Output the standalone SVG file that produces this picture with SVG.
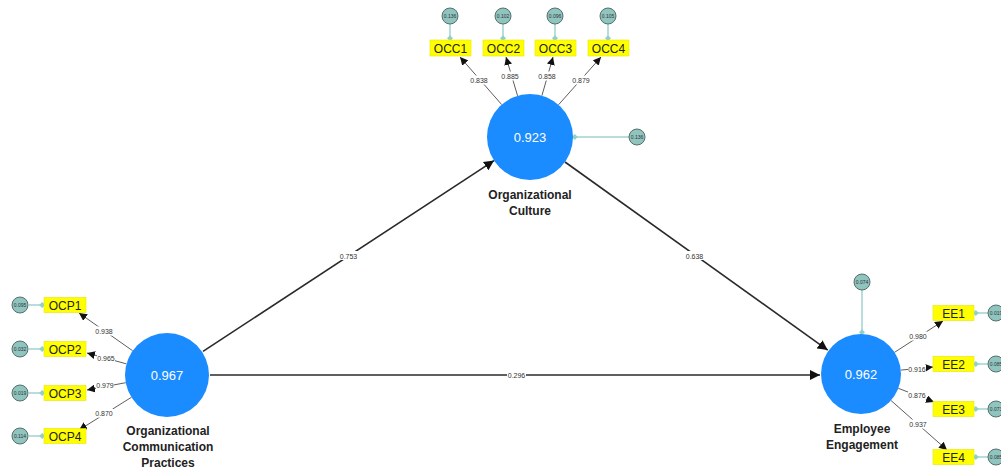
<svg xmlns="http://www.w3.org/2000/svg" width="1001" height="468" viewBox="0 0 1001 468">
  <defs>
    <style>
      .lat { fill: #1a8cff; }
      .latval { font: 13px "Liberation Sans", Arial, sans-serif; fill: #ffffff; text-anchor: middle; }
      .latname { font: bold 12px "Liberation Sans", Arial, sans-serif; fill: #222222; text-anchor: middle; }
      .box { fill: #ffff00; stroke: #e6e600; stroke-width: 0.6; }
      .boxtxt { font: 12px "Liberation Sans", Arial, sans-serif; fill: #222222; text-anchor: middle; }
      .res { fill: #8fc4bf; stroke: #566f6c; stroke-width: 1; }
      .restxt { font: 5px "Liberation Sans", Arial, sans-serif; fill: #333333; text-anchor: middle; }
      .resline { stroke: #9fd3d0; stroke-width: 1.5; fill: none; marker-end: url(#dia); }
      .ind { stroke: #5e5e5e; stroke-width: 1; fill: none; marker-end: url(#ah); }
      .path { stroke: #2a2a2a; stroke-width: 1.6; fill: none; marker-end: url(#ahBig); }
      .coef { font: 7px "Liberation Sans", Arial, sans-serif; fill: #333333; text-anchor: middle; }
      .lblbg { fill: #ffffff; }
    </style>
    <marker id="ah" viewBox="0 0 10 10" refX="10" refY="5" markerWidth="8" markerHeight="8" markerUnits="userSpaceOnUse" orient="auto">
      <path d="M0,0 L10,5 L0,10 z" fill="#111111"/>
    </marker>
    <marker id="ahBig" viewBox="0 0 10 10" refX="10" refY="5" markerWidth="10" markerHeight="10" markerUnits="userSpaceOnUse" orient="auto">
      <path d="M0,0 L10,5 L0,10 z" fill="#111111"/>
    </marker>
    <marker id="dia" viewBox="0 0 10 10" refX="8" refY="5" markerWidth="6" markerHeight="6" markerUnits="userSpaceOnUse" orient="auto">
      <path d="M0,5 L5,0 L10,5 L5,10 z" fill="#8fd0cc"/>
    </marker>
  </defs>
  <rect width="1001" height="468" fill="#ffffff"/>

  <g id="connectors">
    <!-- structural paths -->
    <line class="path" x1="203" y1="351.4" x2="494" y2="160.6"/>
    <line class="path" x1="565" y1="162" x2="827.7" y2="350.1"/>
    <line class="path" x1="210" y1="375" x2="820" y2="375"/>

    <!-- OC loadings -->
    <line class="ind" x1="501.7" y1="104.6" x2="460" y2="57"/>
    <line class="ind" x1="517.6" y1="95.8" x2="506" y2="57"/>
    <line class="ind" x1="541.9" y1="95.7" x2="553" y2="57"/>
    <line class="ind" x1="558.5" y1="104.8" x2="601" y2="57"/>

    <!-- OCP loadings -->
    <line class="ind" x1="132.7" y1="350.8" x2="79" y2="313"/>
    <line class="ind" x1="126.5" y1="363.9" x2="87" y2="353"/>
    <line class="ind" x1="125.7" y1="382.7" x2="87" y2="390"/>
    <line class="ind" x1="131.4" y1="397.3" x2="79" y2="430"/>

    <!-- EE loadings -->
    <line class="ind" x1="894.6" y1="352.3" x2="943" y2="321"/>
    <line class="ind" x1="900.8" y1="370.1" x2="933" y2="367"/>
    <line class="ind" x1="898.3" y1="388.3" x2="934" y2="402"/>
    <line class="ind" x1="891" y1="400.5" x2="947" y2="450"/>

    <!-- residual links -->
    <line class="resline" x1="450" y1="24" x2="450" y2="40"/>
    <line class="resline" x1="503" y1="24" x2="503" y2="40"/>
    <line class="resline" x1="555" y1="24" x2="555" y2="40"/>
    <line class="resline" x1="608" y1="24" x2="608" y2="40"/>
    <line class="resline" x1="629" y1="137" x2="573" y2="137"/>
    <line class="resline" x1="29" y1="305" x2="44" y2="305"/>
    <line class="resline" x1="29" y1="349" x2="44" y2="349"/>
    <line class="resline" x1="29" y1="393" x2="44" y2="393"/>
    <line class="resline" x1="29" y1="436" x2="44" y2="436"/>
    <line class="resline" x1="988" y1="313" x2="974" y2="313"/>
    <line class="resline" x1="988" y1="364" x2="974" y2="364"/>
    <line class="resline" x1="988" y1="409" x2="974" y2="409"/>
    <line class="resline" x1="988" y1="457" x2="974" y2="457"/>
    <line class="resline" x1="862" y1="290" x2="862" y2="334"/>

    <!-- coefficient labels -->
    <rect class="lblbg" x="339" y="251" width="19" height="9"/>
    <text class="coef" x="348.5" y="258.5">0.753</text>
    <rect class="lblbg" x="685" y="251" width="19" height="9"/>
    <text class="coef" x="694.5" y="258.5">0.638</text>
    <rect class="lblbg" x="507" y="370.5" width="19" height="9"/>
    <text class="coef" x="516.5" y="377.5">0.296</text>

    <rect class="lblbg" x="470" y="75.5" width="18" height="9"/>
    <text class="coef" x="479" y="82.5">0.838</text>
    <rect class="lblbg" x="501" y="71.5" width="18" height="9"/>
    <text class="coef" x="510" y="78.5">0.885</text>
    <rect class="lblbg" x="538" y="71.5" width="18" height="9"/>
    <text class="coef" x="547" y="78.5">0.858</text>
    <rect class="lblbg" x="572" y="75.5" width="18" height="9"/>
    <text class="coef" x="581" y="82.5">0.879</text>

    <rect class="lblbg" x="95" y="326.5" width="18" height="9"/>
    <text class="coef" x="104" y="333.5">0.938</text>
    <rect class="lblbg" x="97" y="353.5" width="18" height="9"/>
    <text class="coef" x="106" y="360.5">0.965</text>
    <rect class="lblbg" x="96" y="380.5" width="18" height="9"/>
    <text class="coef" x="105" y="387.5">0.979</text>
    <rect class="lblbg" x="95" y="408.5" width="18" height="9"/>
    <text class="coef" x="104" y="415.5">0.870</text>

    <rect class="lblbg" x="909" y="331.5" width="18" height="9"/>
    <text class="coef" x="918" y="338.5">0.980</text>
    <rect class="lblbg" x="908" y="364.5" width="18" height="9"/>
    <text class="coef" x="917" y="371.5">0.916</text>
    <rect class="lblbg" x="908" y="390.5" width="18" height="9"/>
    <text class="coef" x="917" y="397.5">0.876</text>
    <rect class="lblbg" x="909" y="419.5" width="18" height="9"/>
    <text class="coef" x="918" y="426.5">0.937</text>
  </g>

  <!-- latent constructs -->
  <g id="organizational-culture">
    <circle class="lat" cx="530" cy="137" r="43"/>
    <text class="latval" x="530" y="142">0.923</text>
    <text class="latname" x="530" y="199">Organizational</text>
    <text class="latname" x="530" y="215">Culture</text>
  </g>
  <g id="organizational-communication-practices">
    <circle class="lat" cx="167" cy="375" r="42"/>
    <text class="latval" x="167" y="380">0.967</text>
    <text class="latname" x="168" y="435">Organizational</text>
    <text class="latname" x="168" y="451">Communication</text>
    <text class="latname" x="168" y="467">Practices</text>
  </g>
  <g id="employee-engagement">
    <circle class="lat" cx="861" cy="374" r="40"/>
    <text class="latval" x="861" y="379">0.962</text>
    <text class="latname" x="862" y="433">Employee</text>
    <text class="latname" x="862" y="449">Engagement</text>
  </g>

  <!-- indicators -->
  <g id="OCC1"><rect class="box" x="430" y="40" width="41" height="16"/><text class="boxtxt" x="450.5" y="52.5">OCC1</text></g>
  <g id="OCC2"><rect class="box" x="483" y="40" width="41" height="16"/><text class="boxtxt" x="503.5" y="52.5">OCC2</text></g>
  <g id="OCC3"><rect class="box" x="535" y="40" width="41" height="16"/><text class="boxtxt" x="555.5" y="52.5">OCC3</text></g>
  <g id="OCC4"><rect class="box" x="588" y="40" width="41" height="16"/><text class="boxtxt" x="608.5" y="52.5">OCC4</text></g>

  <g id="OCP1"><rect class="box" x="44" y="297.5" width="42" height="15"/><text class="boxtxt" x="65" y="309.5">OCP1</text></g>
  <g id="OCP2"><rect class="box" x="44" y="341.5" width="42" height="15"/><text class="boxtxt" x="65" y="353.5">OCP2</text></g>
  <g id="OCP3"><rect class="box" x="44" y="385.5" width="42" height="15"/><text class="boxtxt" x="65" y="397.5">OCP3</text></g>
  <g id="OCP4"><rect class="box" x="44" y="428.5" width="42" height="15"/><text class="boxtxt" x="65" y="440.5">OCP4</text></g>

  <g id="EE1"><rect class="box" x="933" y="305.5" width="41" height="15"/><text class="boxtxt" x="953.5" y="317.5">EE1</text></g>
  <g id="EE2"><rect class="box" x="933" y="356.5" width="41" height="15"/><text class="boxtxt" x="953.5" y="368.5">EE2</text></g>
  <g id="EE3"><rect class="box" x="933" y="401.5" width="41" height="15"/><text class="boxtxt" x="953.5" y="413.5">EE3</text></g>
  <g id="EE4"><rect class="box" x="933" y="449.5" width="41" height="15"/><text class="boxtxt" x="953.5" y="461.5">EE4</text></g>

  <!-- error terms -->
  <g id="res-OCC1"><circle class="res" cx="450" cy="16" r="8"/><text class="restxt" x="450" y="17.8">0.136</text></g>
  <g id="res-OCC2"><circle class="res" cx="503" cy="16" r="8"/><text class="restxt" x="503" y="17.8">0.102</text></g>
  <g id="res-OCC3"><circle class="res" cx="555" cy="16" r="8"/><text class="restxt" x="555" y="17.8">0.096</text></g>
  <g id="res-OCC4"><circle class="res" cx="608" cy="16" r="8"/><text class="restxt" x="608" y="17.8">0.105</text></g>
  <g id="res-OC"><circle class="res" cx="637" cy="137" r="8"/><text class="restxt" x="637" y="138.8">0.136</text></g>

  <g id="res-OCP1"><circle class="res" cx="20" cy="305" r="8"/><text class="restxt" x="20" y="306.8">0.095</text></g>
  <g id="res-OCP2"><circle class="res" cx="20" cy="349" r="8"/><text class="restxt" x="20" y="350.8">0.032</text></g>
  <g id="res-OCP3"><circle class="res" cx="20" cy="393" r="8"/><text class="restxt" x="20" y="394.8">0.019</text></g>
  <g id="res-OCP4"><circle class="res" cx="20" cy="436" r="8"/><text class="restxt" x="20" y="437.8">0.114</text></g>

  <g id="res-EE"><circle class="res" cx="862" cy="282" r="8"/><text class="restxt" x="862" y="283.8">0.074</text></g>
  <g id="res-EE1"><circle class="res" cx="996" cy="313" r="8"/><text class="restxt" x="996" y="314.8">0.019</text></g>
  <g id="res-EE2"><circle class="res" cx="996" cy="364" r="8"/><text class="restxt" x="996" y="365.8">0.085</text></g>
  <g id="res-EE3"><circle class="res" cx="996" cy="409" r="8"/><text class="restxt" x="996" y="410.8">0.073</text></g>
  <g id="res-EE4"><circle class="res" cx="996" cy="457" r="8"/><text class="restxt" x="996" y="458.8">0.085</text></g>
</svg>
